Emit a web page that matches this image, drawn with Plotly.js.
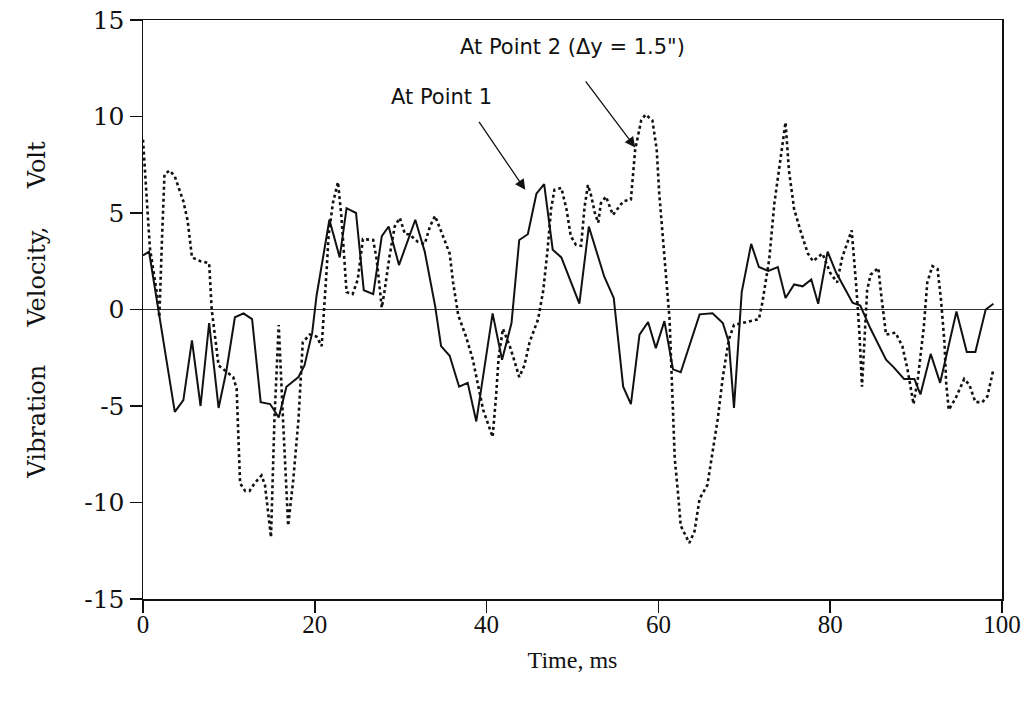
<!DOCTYPE html>
<html>
<head>
<meta charset="utf-8">
<script src="https://cdn.plot.ly/plotly-3.0.1.min.js"></script>
<style>
html,body{margin:0;padding:0;background:#fff;}
#chart{width:1032px;height:716px;}
</style>
</head>
<body>
<div id="chart"></div>
<script>
// Point 1 (solid line)
const tPoint1 = [0,0.7,3.7,4.7,5.7,6.7,7.7,8.8,9.7,10.7,11.7,12.7,13.7,14.8,15.8,16.7,18.1,18.8,19.7,20.2,21.7,22.9,23.7,24.8,25.7,26.8,27.8,28.6,29.8,31.7,32.8,34.0,34.7,35.7,36.8,37.8,38.8,40.7,41.8,42.9,43.8,44.8,45.8,46.7,47.7,48.7,50.8,51.9,53.7,54.8,55.9,56.8,57.8,58.8,59.7,60.7,61.7,62.6,64.8,66.3,67.5,68.2,68.8,69.7,70.8,71.7,72.8,73.9,74.8,75.8,76.8,77.8,78.6,79.7,80.7,82.6,83.5,84.7,86.5,87.4,88.6,89.8,90.5,91.7,92.8,94.7,95.9,96.9,98.1,99.0];
const vPoint1 = [2.8,3.0,-5.3,-4.7,-1.6,-5.0,-0.7,-5.1,-3.2,-0.4,-0.2,-0.5,-4.8,-4.9,-5.6,-4.0,-3.5,-2.9,-1.2,0.7,4.65,2.7,5.25,5.0,1.0,0.8,3.8,4.3,2.3,4.65,3.0,0.2,-1.9,-2.4,-4.0,-3.8,-5.8,-0.2,-2.6,-0.7,3.6,3.9,6.0,6.5,3.1,2.7,0.3,4.3,1.7,0.6,-4.0,-4.9,-1.3,-0.65,-2.0,-0.6,-3.1,-3.25,-0.25,-0.2,-0.7,-1.7,-5.1,0.9,3.4,2.2,2.0,2.2,0.6,1.3,1.2,1.55,0.3,3.0,1.9,0.35,0.2,-1.0,-2.6,-3.0,-3.6,-3.6,-4.4,-2.3,-3.8,-0.1,-2.2,-2.2,0.0,0.3];

// Point 2 (dotted line)
const tPoint2 = [0,0.4,0.8,1.6,1.9,2.2,2.5,3.1,3.7,4.7,5.2,5.7,6.7,7.7,8.0,8.8,9.7,10.5,10.9,11.3,11.9,12.4,13.0,13.8,14.2,14.9,15.3,15.8,16.3,16.9,17.5,18.1,18.6,19.4,20.2,20.8,21.4,21.6,22.1,22.7,23.1,23.5,23.7,24.4,25.0,25.6,26.8,27.2,27.8,28.1,28.7,29.3,29.9,30.5,31.0,32.0,32.8,33.4,34.0,35.1,35.7,36.1,36.7,37.6,38.4,39.6,40.2,40.7,41.1,41.4,41.9,42.7,43.3,43.8,44.4,45.0,46.0,46.6,47.1,47.5,47.9,48.7,49.3,49.8,50.4,51.0,51.4,51.8,52.2,52.6,53.0,53.3,53.9,54.7,55.3,55.9,56.8,57.0,57.3,58.0,58.5,59.3,59.8,60.1,60.5,60.9,61.3,61.5,61.7,61.9,62.3,62.6,63.6,64.2,64.8,65.7,66.3,66.9,67.5,68.2,68.8,70.6,71.7,72.1,72.9,73.5,74.1,74.8,75.2,75.8,76.6,77.4,78.0,79.1,80.0,80.8,81.4,82.5,83.0,83.4,83.7,84.0,84.3,84.7,85.6,85.9,86.5,87.6,88.4,89.0,89.4,89.7,90.2,90.9,91.3,91.9,92.5,92.9,93.3,93.5,93.8,94.6,95.6,96.2,96.9,97.7,98.3,99.0];
const vPoint2 = [8.8,6.0,3.2,0.9,-0.4,3.5,7.0,7.2,6.9,5.6,4.6,2.7,2.5,2.4,0.0,-2.9,-3.2,-3.5,-4.1,-9.0,-9.4,-9.4,-9.0,-8.6,-9.1,-11.8,-5.7,-0.8,-5.7,-11.2,-8.8,-5.7,-1.7,-1.3,-1.4,-1.9,2.2,3.8,5.5,6.6,4.8,2.2,0.9,0.8,1.55,3.65,3.6,2.6,0.1,0.9,2.75,4.3,4.75,3.9,3.9,3.5,3.4,4.3,4.85,3.6,2.9,1.4,-0.3,-1.4,-2.6,-5.2,-6.0,-6.6,-4.5,-2.5,-1.0,-1.9,-2.75,-3.5,-2.9,-1.7,-0.5,1.0,3.1,5.2,6.2,6.3,5.2,3.8,3.35,3.3,5.3,6.45,5.85,5.0,4.5,5.5,5.85,4.9,5.25,5.6,5.7,6.9,8.3,9.8,10.1,9.8,8.3,6.0,3.8,1.4,-0.5,-2.9,-5.7,-7.7,-9.6,-11.2,-12.1,-11.5,-9.8,-9.1,-7.4,-5.7,-3.5,-1.55,-0.8,-0.6,-0.5,0.35,2.6,5.5,7.4,9.7,7.2,5.2,4.0,2.9,2.5,2.9,1.9,1.4,2.7,4.1,1.4,-1.2,-4.0,-1.4,1.0,1.8,2.15,0.9,-1.3,-1.2,-1.9,-3.1,-4.1,-4.9,-3.6,-0.9,1.4,2.25,2.1,0.5,-1.7,-3.8,-5.2,-4.6,-3.6,-3.9,-4.8,-4.8,-4.5,-3.1];

const xTicks = [0,20,40,60,80,100];
const yTicks = [-15,-10,-5,0,5,10,15];
const label1 = 'At Point 1';
const label2 = 'At Point 2 (\u0394y = 1.5")';
const xTitle = 'Time, ms';
const sp = '\u00a0'.repeat(5);
const yTitle = 'Vibration' + sp + 'Velocity,' + sp + 'Volt';

const traces = [
  {x: tPoint1, y: vPoint1, mode: 'lines', type: 'scatter', name: label1,
   line: {color: '#111', width: 2}},
  {x: tPoint2, y: vPoint2, mode: 'lines', type: 'scatter', name: label2,
   line: {color: '#111', width: 2.6, dash: 'dot'}}
];

const layout = {
  width: 1032, height: 716,
  margin: {l: 143, r: 30, t: 20, b: 117},
  paper_bgcolor: '#fff', plot_bgcolor: '#fff',
  showlegend: false,
  xaxis: {
    range: [0, 100], tickvals: xTicks, ticktext: xTicks.map(String),
    showgrid: false, zeroline: false,
    showline: true, linecolor: '#111', linewidth: 1.5, mirror: true,
    ticks: 'outside', ticklen: 12, tickwidth: 1.5, tickcolor: '#111',
    ticklabelstandoff: -10,
    tickfont: {family: 'Liberation Serif, serif', size: 25, color: '#111'},
    title: {text: xTitle, font: {family: 'Liberation Serif, serif', size: 24, color: '#111'}, standoff: 14}
  },
  yaxis: {
    range: [-15, 15], tickvals: yTicks, ticktext: yTicks.map(String),
    showgrid: false, zeroline: true, zerolinecolor: '#333', zerolinewidth: 1,
    showline: true, linecolor: '#111', linewidth: 1.5, mirror: true,
    ticks: 'outside', ticklen: 12, tickwidth: 1.5, tickcolor: '#111',
    tickfont: {family: 'DejaVu Serif, serif', size: 25, color: '#111'},
    title: {text: yTitle, font: {family: 'DejaVu Serif, serif', size: 24, color: '#111'}, standoff: 32}
  },
  annotations: [
    {x: 44.5, y: 6.2, ax: 39.0, ay: 9.8, xref: 'x', yref: 'y', axref: 'x', ayref: 'y',
     text: '', showarrow: true, arrowhead: 2, arrowsize: 1.6, arrowwidth: 1.3, arrowcolor: '#111'},
    {x: 57.3, y: 8.4, ax: 51.4, ay: 11.9, xref: 'x', yref: 'y', axref: 'x', ayref: 'y',
     text: '', showarrow: true, arrowhead: 2, arrowsize: 1.6, arrowwidth: 1.3, arrowcolor: '#111'},
    {x: 34.7, y: 11.0, xref: 'x', yref: 'y', text: label1, showarrow: false,
     font: {family: 'DejaVu Sans, sans-serif', size: 21, color: '#111'}},
    {x: 50.0, y: 13.6, xref: 'x', yref: 'y', text: label2, showarrow: false,
     font: {family: 'DejaVu Sans, sans-serif', size: 21, color: '#111'}}
  ]
};

Plotly.newPlot('chart', traces, layout, {displayModeBar: false, staticPlot: true});
</script>
</body>
</html>
